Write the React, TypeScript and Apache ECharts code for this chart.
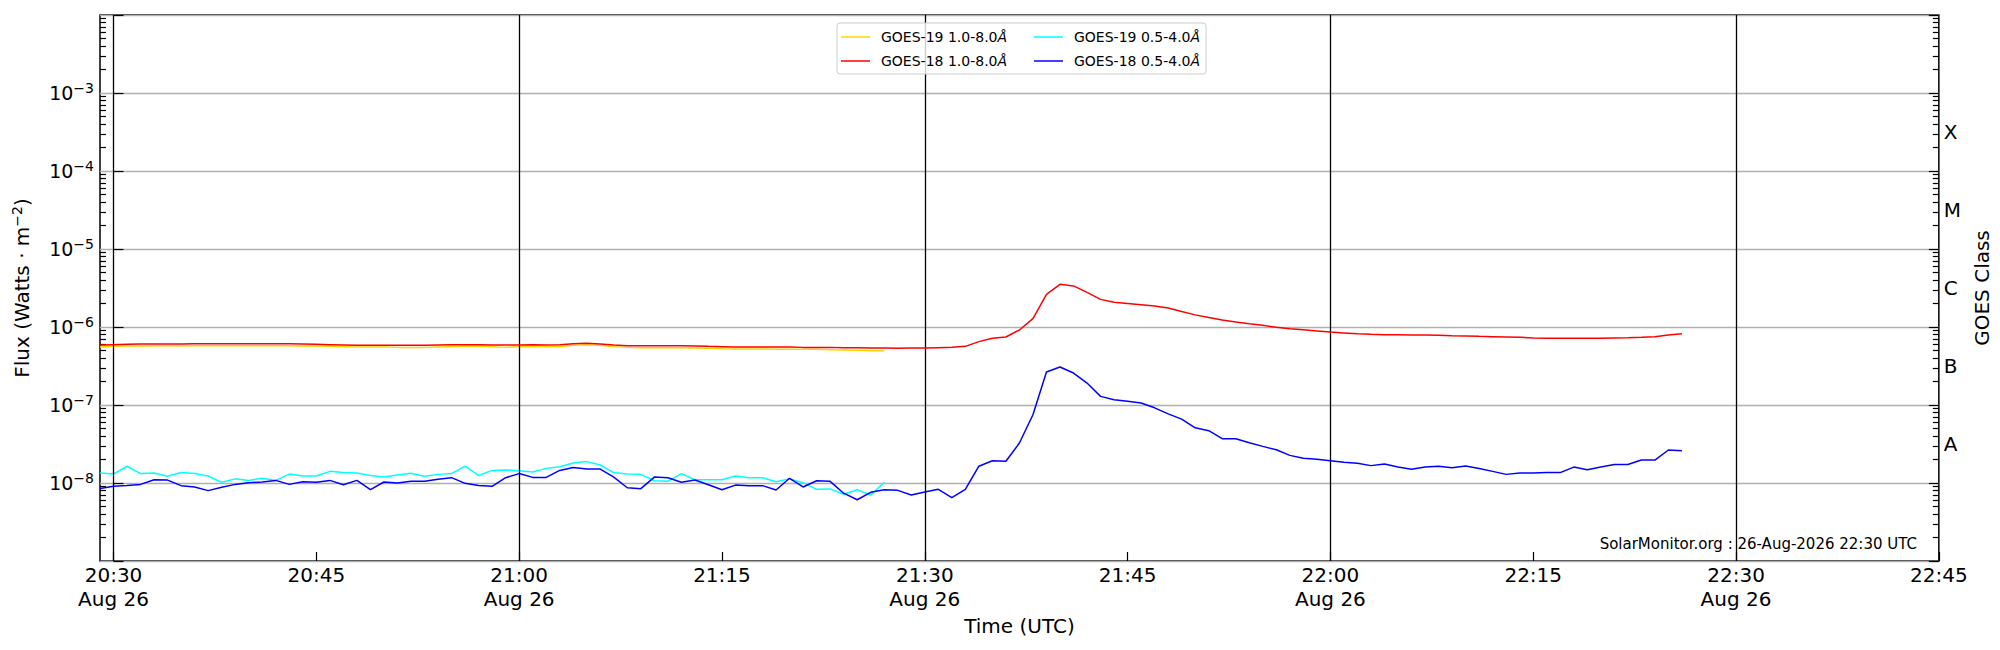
import React, { useEffect, useRef } from "react";
import * as echarts from "echarts";

const FONT = "DejaVu Sans";

// minutes relative to 20:30 UTC of the first sample (20:29), 1-minute cadence
const START_MIN = -1;

const goes18Long = [
  5.88e-7, 5.94e-7, 6.0e-7, 6.05e-7, 6.05e-7, 6.05e-7, 6.05e-7, 6.1e-7, 6.1e-7, 6.1e-7,
  6.1e-7, 6.1e-7, 6.1e-7, 6.1e-7, 6.1e-7, 6.05e-7, 6.0e-7, 5.94e-7, 5.88e-7, 5.82e-7,
  5.82e-7, 5.82e-7, 5.82e-7, 5.82e-7, 5.82e-7, 5.88e-7, 5.94e-7, 5.94e-7, 5.94e-7, 5.88e-7,
  5.88e-7, 5.88e-7, 5.94e-7, 5.88e-7, 5.94e-7, 6.11e-7, 6.18e-7, 6.05e-7, 5.88e-7, 5.77e-7,
  5.77e-7, 5.77e-7, 5.77e-7, 5.77e-7, 5.71e-7, 5.65e-7, 5.6e-7, 5.54e-7, 5.54e-7, 5.54e-7,
  5.54e-7, 5.54e-7, 5.48e-7, 5.48e-7, 5.48e-7, 5.43e-7, 5.43e-7, 5.38e-7, 5.38e-7, 5.33e-7,
  5.37e-7, 5.37e-7, 5.43e-7, 5.49e-7, 5.65e-7, 6.49e-7, 7.16e-7, 7.45e-7, 9.16e-7, 1.28e-6,
  2.62e-6, 3.52e-6, 3.36e-6, 2.78e-6, 2.26e-6, 2.07e-6, 2.0e-6, 1.93e-6, 1.86e-6, 1.75e-6,
  1.58e-6, 1.43e-6, 1.32e-6, 1.23e-6, 1.16e-6, 1.1e-6, 1.05e-6, 9.9e-7, 9.5e-7, 9.2e-7,
  8.9e-7, 8.6e-7, 8.4e-7, 8.2e-7, 8.05e-7, 7.97e-7, 7.97e-7, 7.89e-7, 7.89e-7, 7.82e-7,
  7.74e-7, 7.67e-7, 7.59e-7, 7.52e-7, 7.45e-7, 7.38e-7, 7.23e-7, 7.16e-7, 7.16e-7, 7.16e-7,
  7.16e-7, 7.16e-7, 7.23e-7, 7.3e-7, 7.38e-7, 7.52e-7, 7.89e-7, 8.22e-7,
];

const goes18Short = [
  8.5e-9, 9.06e-9, 9.3e-9, 9.6e-9, 1.1e-8, 1.09e-8, 9.25e-9, 8.9e-9, 7.98e-9, 8.8e-9,
  9.6e-9, 1.01e-8, 1.03e-8, 1.08e-8, 9.6e-9, 1.04e-8, 1.02e-8, 1.08e-8, 9.5e-9, 1.08e-8,
  8.2e-9, 1.03e-8, 1.0e-8, 1.05e-8, 1.05e-8, 1.12e-8, 1.17e-8, 9.9e-9, 9.3e-9, 9.06e-9,
  1.17e-8, 1.32e-8, 1.18e-8, 1.18e-8, 1.45e-8, 1.58e-8, 1.51e-8, 1.51e-8, 1.19e-8, 8.7e-9,
  8.46e-9, 1.19e-8, 1.17e-8, 1.02e-8, 1.09e-8, 9.5e-9, 8.2e-9, 9.4e-9, 9.25e-9, 9.25e-9,
  8.13e-9, 1.15e-8, 8.9e-9, 1.07e-8, 1.05e-8, 7.4e-9, 6.1e-9, 7.6e-9, 8.2e-9, 8.05e-9,
  7.0e-9, 7.67e-9, 8.3e-9, 6.5e-9, 8.3e-9, 1.64e-8, 1.93e-8, 1.9e-8, 3.26e-8, 7.5e-8,
  2.65e-7, 3.07e-7, 2.57e-7, 1.91e-7, 1.29e-7, 1.17e-7, 1.12e-7, 1.06e-7, 9.2e-8, 7.7e-8,
  6.6e-8, 5.1e-8, 4.69e-8, 3.7e-8, 3.7e-8, 3.29e-8, 2.95e-8, 2.67e-8, 2.26e-8, 2.07e-8,
  2.01e-8, 1.93e-8, 1.84e-8, 1.79e-8, 1.67e-8, 1.75e-8, 1.6e-8, 1.5e-8, 1.6e-8, 1.64e-8,
  1.57e-8, 1.65e-8, 1.53e-8, 1.41e-8, 1.29e-8, 1.34e-8, 1.34e-8, 1.36e-8, 1.36e-8, 1.6e-8,
  1.48e-8, 1.6e-8, 1.73e-8, 1.73e-8, 1.97e-8, 1.97e-8, 2.65e-8, 2.6e-8,
];

const goes19Long = [
  5.54e-7, 5.65e-7, 5.71e-7, 5.71e-7, 5.77e-7, 5.77e-7, 5.77e-7, 5.77e-7, 5.77e-7, 5.77e-7,
  5.77e-7, 5.77e-7, 5.77e-7, 5.77e-7, 5.77e-7, 5.71e-7, 5.71e-7, 5.65e-7, 5.6e-7, 5.54e-7,
  5.54e-7, 5.54e-7, 5.48e-7, 5.48e-7, 5.48e-7, 5.54e-7, 5.6e-7, 5.65e-7, 5.65e-7, 5.6e-7,
  5.48e-7, 5.6e-7, 5.6e-7, 5.6e-7, 5.6e-7, 5.82e-7, 5.94e-7, 5.82e-7, 5.6e-7, 5.48e-7,
  5.43e-7, 5.43e-7, 5.43e-7, 5.43e-7, 5.38e-7, 5.33e-7, 5.27e-7, 5.22e-7, 5.22e-7, 5.22e-7,
  5.17e-7, 5.17e-7, 5.17e-7, 5.17e-7, 5.12e-7, 5.07e-7, 5.02e-7, 4.97e-7, 4.92e-7,
];

const goes19Short = [
  1.34e-8, 1.3e-8, 1.64e-8, 1.32e-8, 1.34e-8, 1.22e-8, 1.36e-8, 1.32e-8, 1.23e-8, 1.02e-8,
  1.13e-8, 1.08e-8, 1.15e-8, 1.08e-8, 1.3e-8, 1.23e-8, 1.23e-8, 1.41e-8, 1.36e-8, 1.34e-8,
  1.25e-8, 1.19e-8, 1.27e-8, 1.33e-8, 1.22e-8, 1.29e-8, 1.32e-8, 1.65e-8, 1.25e-8, 1.45e-8,
  1.47e-8, 1.44e-8, 1.38e-8, 1.54e-8, 1.62e-8, 1.8e-8, 1.88e-8, 1.7e-8, 1.36e-8, 1.3e-8,
  1.29e-8, 1.07e-8, 1.05e-8, 1.32e-8, 1.1e-8, 1.1e-8, 1.1e-8, 1.23e-8, 1.17e-8, 1.17e-8,
  1.04e-8, 1.13e-8, 1.01e-8, 8.3e-9, 8.4e-9, 7.16e-9, 8.2e-9, 7.0e-9, 1.02e-8,
];

const seriesNames = [
  "GOES-19 1.0-8.0Å",
  "GOES-19 0.5-4.0Å",
  "GOES-18 1.0-8.0Å",
  "GOES-18 0.5-4.0Å",
];
const seriesColors = ["#FFD700", "#00FFFF", "#FF0000", "#0000FF"];

const xTickMinutes = [0, 15, 30, 45, 60, 75, 90, 105, 120, 135];
const xGridMinutes = [0, 30, 60, 90, 120];
const dateLabel = "Aug 26";

const decadeValues = [1e-9, 1e-8, 1e-7, 1e-6, 1e-5, 1e-4, 1e-3, 1e-2];
const yLabelValues = [1e-8, 1e-7, 1e-6, 1e-5, 1e-4, 1e-3];
const classLetters = ["A", "B", "C", "M", "X"];
const classCenters = [3.162e-8, 3.162e-7, 3.162e-6, 3.162e-5, 3.162e-4];

const watermark = "SolarMonitor.org : 26-Aug-2026 22:30 UTC";

const minorValues: number[] = [];
for (let e = -9; e <= -3; e++) {
  for (let k = 2; k <= 9; k++) minorValues.push(Number((k * Math.pow(10, e)).toPrecision(3)));
}

function toPairs(values: number[]) {
  return values.map((v, i) => [START_MIN + i, v]);
}

function timeLabel(m: number) {
  const total = 20 * 60 + 30 + m;
  const hh = Math.floor(total / 60);
  const mm = total % 60;
  const s = `${hh}:${String(mm).padStart(2, "0")}`;
  return mm % 30 === 0 ? `${s}\n${dateLabel}` : s;
}

const legendFormatter = (name: string) => `{n|${name.slice(0, -1)}}{i|Å}`;
const legendRich = {
  n: { fontSize: 14, fontFamily: FONT, color: "#000", lineHeight: 14 },
  i: { fontSize: 14, fontFamily: FONT, color: "#000", fontStyle: "italic", lineHeight: 14 },
};

function logAxis(position: "left" | "right", major: boolean) {
  return {
    type: "log",
    logBase: 10,
    min: 1e-9,
    max: 1e-2,
    position,
    axisLine: { show: false },
    axisTick: {
      show: true,
      inside: true,
      length: major ? 10 : 6,
      customValues: major ? decadeValues : minorValues,
      lineStyle: { color: "#000", width: 1.2 },
    },
    axisLabel: { show: false },
    splitLine: { show: false },
  };
}

export default function App() {
  const ref = useRef<HTMLDivElement>(null);

  useEffect(() => {
    document.body.style.margin = "0";
    if (!ref.current) return;
    const chart = echarts.init(ref.current, undefined, { renderer: "svg" });

    const lineSeries = [goes19Long, goes19Short, goes18Long, goes18Short].map((vals, idx) => ({
      name: seriesNames[idx],
      type: "line",
      data: toPairs(vals),
      symbol: "none",
      showSymbol: false,
      xAxisIndex: 0,
      yAxisIndex: 0,
      z: 3 + idx,
      lineStyle: { color: seriesColors[idx], width: 1.5 },
      itemStyle: { color: seriesColors[idx] },
      emphasis: { disabled: true },
      ...(idx === 0
        ? {
            markLine: {
              silent: true,
              symbol: ["none", "none"],
              label: { show: false },
              lineStyle: { color: "#000", width: 1.3, type: "solid" },
              emphasis: { disabled: true },
              data: xGridMinutes.map((m) => ({ xAxis: m })),
            },
          }
        : {}),
    }));

    const legendCommon = {
      orient: "vertical",
      top: 23,
      itemGap: 10,
      itemWidth: 29,
      itemHeight: 1.5,
      icon: "rect",
      selectedMode: false,
      formatter: legendFormatter,
      textStyle: { fontSize: 14, color: "#000", fontFamily: FONT, padding: [0, 0, 0, 6], rich: legendRich },
    };

    const option: any = {
      animation: false,
      textStyle: { fontFamily: FONT, color: "#000" },
      grid: {
        left: 100,
        right: 60,
        top: 15,
        bottom: 89,
        show: true,
        borderColor: "#000",
        borderWidth: 1.5,
        backgroundColor: "transparent",
      },
      xAxis: {
        type: "value",
        min: START_MIN,
        max: 135,
        position: "bottom",
        axisLine: { show: false },
        axisTick: {
          show: true,
          inside: true,
          length: 9,
          customValues: xTickMinutes,
          lineStyle: { color: "#000", width: 1.2 },
        },
        axisLabel: {
          customValues: xTickMinutes,
          formatter: (v: number) => timeLabel(v),
          fontSize: 20,
          lineHeight: 24,
          margin: 2,
          color: "#000",
          fontFamily: FONT,
        },
        splitLine: { show: false },
        name: "Time (UTC)",
        nameLocation: "middle",
        nameGap: 50,
        nameTextStyle: { fontSize: 20, color: "#000", fontFamily: FONT },
      },
      yAxis: [
        {
          ...logAxis("left", true),
          axisLabel: {
            show: true,
            customValues: yLabelValues,
            margin: 6,
            formatter: (v: number) => `{b|10}{s|−${Math.round(-Math.log10(v))}}`,
            rich: {
              b: { fontSize: 19, lineHeight: 24, fontFamily: FONT, color: "#000" },
              s: { fontSize: 14, lineHeight: 12, verticalAlign: "top", fontFamily: FONT, color: "#000" },
            },
          },
          splitLine: { show: true, lineStyle: { color: "#b0b0b0", width: 1.3 } },
          name: "{n|Flux (Watts · m}{s|−2}{n|)}",
          nameLocation: "middle",
          nameRotate: 90,
          nameGap: 66,
          nameTextStyle: {
            rich: {
              n: { fontSize: 20, lineHeight: 24, fontFamily: FONT, color: "#000" },
              s: { fontSize: 14, lineHeight: 12, verticalAlign: "top", fontFamily: FONT, color: "#000" },
            },
          },
        },
        logAxis("left", false),
        {
          ...logAxis("right", true),
          axisLabel: {
            show: true,
            customValues: classCenters,
            margin: 5,
            formatter: (v: number) => {
              const idx = classCenters.findIndex((c) => Math.abs(c - v) / c < 0.01);
              return idx >= 0 ? classLetters[idx] : "";
            },
            fontSize: 20,
            color: "#000",
            fontFamily: FONT,
          },
          name: "GOES Class",
          nameLocation: "middle",
          nameRotate: 90,
          nameGap: 19,
          nameTextStyle: { fontSize: 20, color: "#000", fontFamily: FONT },
        },
        logAxis("right", false),
      ],
      legend: [
        {
          ...legendCommon,
          data: [seriesNames[0], seriesNames[2]],
          left: 837,
          padding: [7, 199, 6, 4],
          backgroundColor: "rgba(255,255,255,0.8)",
          borderColor: "#cccccc",
          borderWidth: 1,
          borderRadius: 3,
          z: 10,
        },
        {
          ...legendCommon,
          data: [seriesNames[1], seriesNames[3]],
          left: 1034,
          padding: [7, 4, 6, 0],
          z: 11,
        },
      ],
      graphic: [
        {
          type: "text",
          x: 1917,
          y: 544,
          z: 20,
          silent: true,
          style: {
            text: watermark,
            fontSize: 15,
            fontFamily: FONT,
            fill: "#000",
            align: "right",
            verticalAlign: "middle",
            textAlign: "right",
            textVerticalAlign: "middle",
          },
        },
      ],
      series: lineSeries,
    };

    chart.setOption(option);
    return () => chart.dispose();
  }, []);

  return (
    <div
      ref={ref}
      style={{ position: "absolute", left: 0, top: 0, width: 2000, height: 650, background: "#fff" }}
    />
  );
}
